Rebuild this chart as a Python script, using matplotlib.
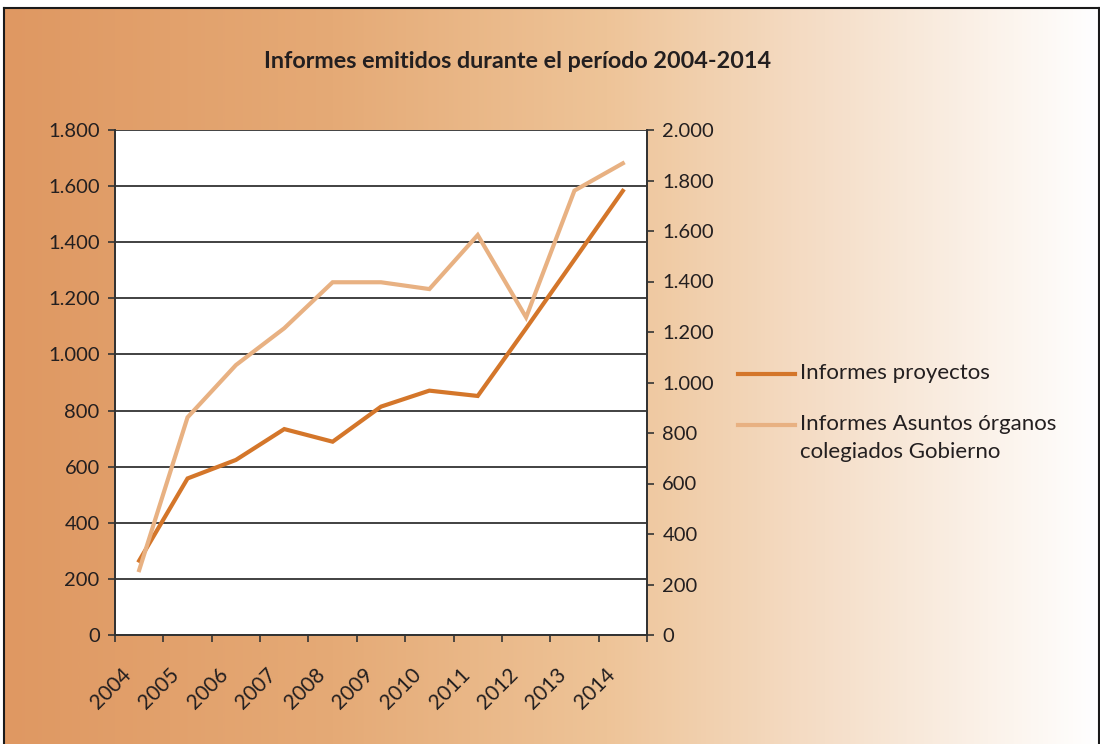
import numpy as np
import matplotlib
matplotlib.use("Agg")
import matplotlib.pyplot as plt
from matplotlib.lines import Line2D
from matplotlib.colors import LinearSegmentedColormap
from matplotlib.ticker import FuncFormatter
import matplotlib.transforms as mtransforms

# ---- data ----
years = ["2004", "2005", "2006", "2007", "2008", "2009", "2010", "2011", "2012", "2013", "2014"]
proyectos = [265, 558, 624, 734, 689, 814, 871, 852, 1093, 1338, 1583]
asuntos = [257, 862, 1069, 1215, 1397, 1397, 1370, 1584, 1258, 1760, 1868]
label_proyectos = "Informes proyectos"
label_asuntos = ["Informes Asuntos órganos", "colegiados Gobierno"]
title = "Informes emitidos durante el período 2004-2014"

plt.rcParams['font.family'] = ['Lato', 'DejaVu Sans']
W, H = 1100, 744
fig = plt.figure(figsize=(W / 100, H / 100), dpi=100)
fig.patch.set_facecolor('white')

# background gradient
bg = fig.add_axes([4 / W, 0, 1095 / W, 736 / H], zorder=-10)
cmap = LinearSegmentedColormap.from_list('bg', [
    (0.0, (223/255, 152/255, 98/255)),
    (0.3, (229/255, 170/255, 118/255)),
    (0.55, (238/255, 196/255, 152/255)),
    (0.75, (245/255, 222/255, 200/255)),
    (1.0, (255/255, 255/255, 255/255)),
])
grad = np.linspace(0, 1, 512).reshape(1, -1)
bg.imshow(grad, aspect='auto', cmap=cmap, extent=[0, 1, 0, 1])
bg.set_axis_off()

# border
for xs, ys in [([4, 4], [0, 736]), ([4, 1099], [736, 736]), ([1099, 1099], [0, 736])]:
    fig.add_artist(Line2D([x / W for x in xs], [y / H for y in ys], color='#1a1a1a', lw=1.5,
                          transform=fig.transFigure))

dark = '#D4762A'
light = '#E8B182'
txtc = '#231F20'

ax = fig.add_axes([115 / W, 1 - 635 / H, (647 - 115) / W, (635 - 130) / H])
ax.set_facecolor('white')
x = np.arange(len(years))
ax.plot(x, proyectos, color=dark, lw=3.0, solid_joinstyle='miter', zorder=4)
ax.set_xlim(-0.5, len(years) - 0.5)
ax.set_ylim(0, 1800)
ax.set_yticks(np.arange(0, 1801, 200))
fmt = FuncFormatter(lambda v, p: f"{int(v):,}".replace(",", "."))
ax.yaxis.set_major_formatter(fmt)
ax.grid(axis='y', color='#333333', lw=1.3, zorder=1)
ax.set_axisbelow(True)

ax2 = ax.twinx()
ax2.plot(x, asuntos, color=light, lw=3.0, solid_joinstyle='miter', zorder=3)
ax2.set_ylim(0, 2000)
ax2.set_yticks(np.arange(0, 2001, 200))
ax2.yaxis.set_major_formatter(fmt)
ax.set_zorder(1)
ax2.set_zorder(2)
ax2.patch.set_visible(False)

# x ticks at boundaries, labels at centres
ax.set_xticks(np.arange(-0.5, len(years)), labels=[''] * (len(years) + 1))
ax.set_xticks(x, minor=True)
ax.set_xticklabels(years, minor=True, rotation=45, ha='right', va='center',
                   rotation_mode='anchor', fontsize=15, color=txtc)
ax.tick_params(axis='x', which='minor', length=0, pad=26)
ax.tick_params(axis='x', which='major', length=5, width=1.2, color='#333333', direction='out')
offset = mtransforms.ScaledTranslation(-11 / 100, 0, fig.dpi_scale_trans)
for lab in ax.get_xticklabels(minor=True):
    lab.set_transform(lab.get_transform() + offset)

ax.tick_params(axis='y', length=5, width=1.2, color='#333333', labelsize=14.5, labelcolor=txtc, pad=6)
ax2.tick_params(axis='y', length=5, width=1.2, color='#333333', labelsize=14.5, labelcolor=txtc, pad=6)

for a in (ax, ax2):
    for s in ['left', 'right', 'bottom']:
        a.spines[s].set_color('#333333')
        a.spines[s].set_linewidth(1.3)
    a.spines['top'].set_visible(False)

# title
fig.text(518 / W, 1 - 62 / H, title, ha='center', va='center', fontsize=16.8,
         fontweight='bold', color=txtc)

# legend (manual)
def leg_line(y, color):
    fig.add_artist(Line2D([738 / W, 795 / W], [1 - y / H, 1 - y / H], color=color, lw=3.0,
                          transform=fig.transFigure))

leg_line(374, dark)
fig.text(800 / W, 1 - 373 / H, label_proyectos, ha='left', va='center', fontsize=16, color=txtc)
leg_line(425, light)
fig.text(800 / W, 1 - 424 / H, label_asuntos[0], ha='left', va='center', fontsize=16, color=txtc)
fig.text(800 / W, 1 - 452 / H, label_asuntos[1], ha='left', va='center', fontsize=16, color=txtc)

fig.savefig('out.png', dpi=100)
